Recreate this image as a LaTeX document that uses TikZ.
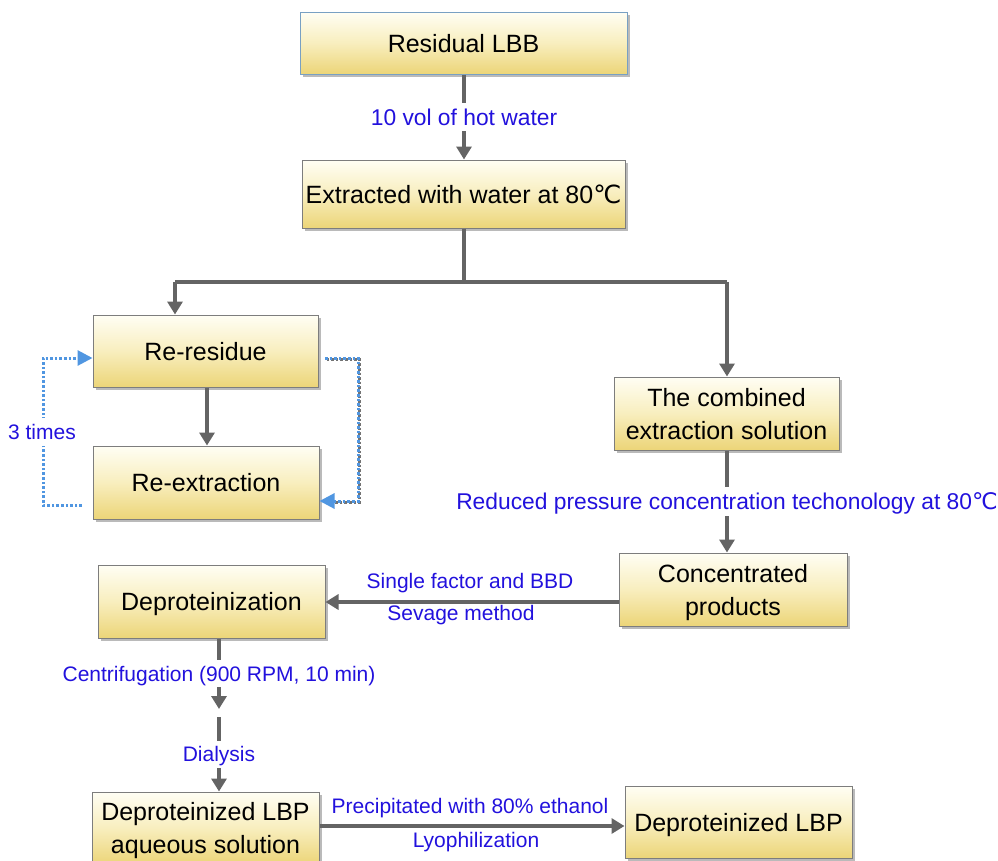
\documentclass[tikz,border=0pt]{standalone}
\usepackage{fontspec}
\setmainfont{Liberation Sans}
\newfontfamily\dvfont{DejaVu Sans}
\usetikzlibrary{arrows.meta,shadows}
\newcommand{\degC}{{\dvfont ℃}}
\definecolor{boxtop}{RGB}{255,254,244}
\definecolor{boxmid}{RGB}{248,238,190}
\definecolor{boxbot}{RGB}{236,213,120}
\definecolor{arrgray}{RGB}{100,100,100}
\definecolor{lblblue}{RGB}{34,17,221}
\definecolor{dotblue}{RGB}{80,150,225}
\definecolor{edgegray}{RGB}{125,125,125}
\definecolor{edgeblue}{RGB}{120,160,195}
\begin{document}
\begin{tikzpicture}[x=1pt,y=-1pt,
  box/.style={draw=edgegray, line width=1pt, top color=boxtop, bottom color=boxbot, middle color=boxmid,
    drop shadow={shadow xshift=3pt, shadow yshift=-3pt, fill=black!45, opacity=0.6},
    align=center, inner sep=0pt, text depth=0pt, font=\fontsize{25}{33}\selectfont},
  arr/.style={draw=arrgray, line width=4pt, -{Triangle[width=15pt,length=13pt]}},
  ln/.style={draw=arrgray, line width=4pt},
  plain/.style={text=lblblue, font=\fontsize{21}{25}\selectfont, text depth=0pt},
  lbl/.style={plain, fill=white, inner xsep=2pt, inner ysep=6pt},
  biglbl/.style={lbl, font=\fontsize{22.8}{27}\selectfont},
  dots/.style={draw=dotblue, line width=3pt, dash pattern=on 2.6pt off 2pt, -{Triangle[width=15pt,length=15pt]}},
  dotshadow/.style={draw=black!55, line width=3pt, dash pattern=on 2.6pt off 2pt}
]
\useasboundingbox (0,0) rectangle (998,860);

% boxes
\node[box, draw=edgeblue, minimum width=327pt, minimum height=62pt] (r1) at (463.5,43) {Residual LBB};
\node[box, minimum width=323pt, minimum height=68pt] (r2) at (463.5,194) {Extracted with water at 80\degC};
\node[box, minimum width=225pt, minimum height=72pt] (rres) at (205.5,351) {Re-residue};
\node[box, minimum width=226pt, minimum height=73pt] (rext) at (206,482.5) {Re-extraction};
\node[box, minimum width=225pt, minimum height=73pt] (comb) at (726.5,413.5) {The combined\\extraction solution};
\node[box, minimum width=228pt, minimum height=73pt] (conc) at (733,589.5) {Concentrated\\products};
\node[box, minimum width=227pt, minimum height=73pt] (dep) at (211.5,601.5) {Deproteinization};
\node[box, minimum width=227pt, minimum height=72pt] (aq) at (205.5,828) {Deproteinized LBP\\aqueous solution};
\node[box, minimum width=227pt, minimum height=72pt] (dlbp) at (738.5,822) {Deproteinized LBP};

% top arrow
\draw[arr] (r1.south -| 464,0) -- node[biglbl]{10 vol of hot water} (r2.north -| 464,0);

% T junction
\coordinate (jm) at (464,282);
\coordinate (jl) at (175,282);
\coordinate (jr) at (727,282);
\draw[ln] (r2.south -| jm) -- (jm);
\draw[ln, line join=round] (jl) -- (jr);
\draw[arr] (jl) -- (jl |- rres.north);
\draw[arr] (jr) -- (jr |- comb.north);

% re-residue to re-extraction
\draw[arr] (rres.south -| 207,0) -- (rext.north -| 207,0);

% dotted loops
\coordinate (la) at (82,505);
\coordinate (lb) at (43,505);
\coordinate (lc) at (43,358);
\coordinate (ra) at (325,358);
\coordinate (rb) at (358,358);
\coordinate (rc) at (358,501);
\draw[dots] (la) -- (lb) -- (lc) -- (rres.west |- lc);
\draw[dotshadow] ([shift={(1.5,1.5)}]ra) -- ([shift={(1.5,1.5)}]rb) -- ([shift={(1.5,1.5)}]rc) -- ([shift={(10,1.5)}]rext.east |- rc);
\draw[dots] (ra) -- (rb) -- (rc) -- (rext.east |- rc);
\node[lbl] (times) at (42,432) {3 times};

% combined -> concentrated
\draw[arr] (comb.south -| 727,0) -- node[biglbl]{Reduced pressure concentration techonology at 80\degC} (conc.north -| 727,0);

% concentrated -> deproteinization
\draw[arr] (conc.west |- 0,602) -- (dep.east |- 0,602);
\node[plain] (sf) at (470,581) {Single factor and BBD};
\node[plain] (sm) at (461,613) {Sevage method};

% deproteinization -> aqueous
\coordinate (d1) at (219,709);
\coordinate (d2) at (219,717);
\draw[arr] (dep.south -| d1) -- node[lbl]{Centrifugation (900 RPM, 10 min)} (d1);
\draw[arr] (d2) -- node[lbl]{Dialysis} (aq.north -| d2);

% aqueous -> deproteinized LBP
\draw[arr] (aq.east |- 0,826) -- (dlbp.west |- 0,826);
\node[plain] (pe) at (470,806) {Precipitated with 80\% ethanol};
\node[plain] (ly) at (476,840) {Lyophilization};
\end{tikzpicture}
\end{document}
